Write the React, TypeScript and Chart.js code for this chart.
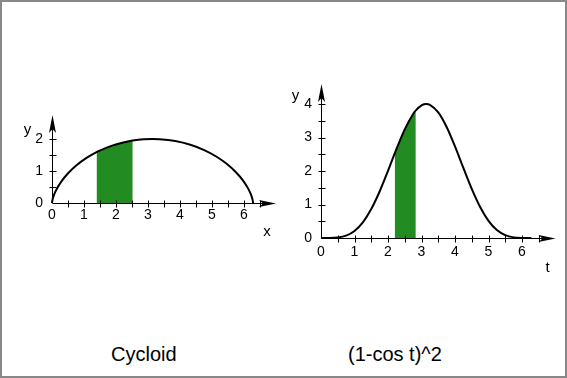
import React, { useEffect, useRef } from 'react';
import { Chart, registerables } from 'chart.js';

Chart.register(...registerables);

const FONT = 'Arial, "Liberation Sans", Helvetica, sans-serif';
const GREEN = '#228B22';

// ---- Left chart: Cycloid ----
const cycloidX = [0, 0.003, 0.021, 0.068, 0.159, 0.301, 0.503, 0.766, 1.091, 1.392, 1.472, 1.902, 2.368, 2.523, 2.859, 3.142, 3.358, 3.851, 4.322, 4.757, 5.145, 5.478, 5.749, 5.959, 6.109, 6.206, 6.258, 6.279, 6.283];
const cycloidY = [0, 0.031, 0.122, 0.268, 0.46, 0.685, 0.929, 1.178, 1.416, 1.589, 1.628, 1.801, 1.924, 1.952, 1.99, 2.0, 1.994, 1.937, 1.821, 1.654, 1.446, 1.211, 0.962, 0.716, 0.488, 0.291, 0.139, 0.04, 0];
const cycloidShadeX = [1.392, 1.472, 1.902, 2.368, 2.523];
const cycloidShadeY = [1.589, 1.628, 1.801, 1.924, 1.952];
const cycloidXTickMarks = [0, 0.5, 1, 1.5, 2, 2.5, 3, 3.5, 4, 4.5, 5, 5.5, 6, 6.5];
const cycloidYTickMarks = [0, 0.5, 1, 1.5, 2];

// ---- Right chart: (1-cos t)^2 ----
const bellT = [0, 0.25, 0.5, 0.75, 1, 1.25, 1.5, 1.75, 2, 2.2, 2.25, 2.5, 2.75, 2.83, 3, 3.14, 3.25, 3.5, 3.75, 4, 4.25, 4.5, 4.75, 5, 5.25, 5.5, 5.75, 6, 6.28];
const bellY = [0, 0.001, 0.015, 0.072, 0.211, 0.469, 0.864, 1.388, 2.005, 2.523, 2.651, 3.244, 3.703, 3.809, 3.96, 4.0, 3.976, 3.75, 3.315, 2.734, 2.091, 1.466, 0.926, 0.513, 0.238, 0.085, 0.019, 0.002, 0];
const bellShadeT = [2.2, 2.25, 2.5, 2.75, 2.83];
const bellShadeY = [2.523, 2.651, 3.244, 3.703, 3.809];
const bellXTickMarks = [0, 0.5, 1, 1.5, 2, 2.5, 3, 3.5, 4, 4.5, 5, 5.5, 6, 6.5];
const bellYTickMarks = [0, 0.5, 1, 1.5, 2, 2.5, 3, 3.5, 4];

const titles = ['Cycloid', '(1-cos t)^2'];

const toPts = (xs: number[], ys: number[]) => xs.map((x, i) => ({ x, y: ys[i] }));

const axesPlugin = {
  id: 'axesArrows',
  afterDatasetsDraw(chart: any, _args: any, opts: any) {
    const { ctx } = chart;
    const xs = chart.scales.x;
    const ys = chart.scales.y;
    const ox = Math.round(xs.getPixelForValue(0)) + 0.5;
    const oy = Math.round(ys.getPixelForValue(0)) + 0.5;
    const xEnd = xs.right;
    const yEnd = ys.top;
    ctx.save();
    ctx.strokeStyle = '#000';
    ctx.lineWidth = 1;
    ctx.beginPath();
    ctx.moveTo(ox, oy);
    ctx.lineTo(xEnd - 6, oy);
    ctx.moveTo(ox, oy);
    ctx.lineTo(ox, yEnd + 6);
    for (const v of opts.xTicks) {
      if (v === 0) continue;
      const px = Math.round(xs.getPixelForValue(v)) + 0.5;
      ctx.moveTo(px, oy - 3);
      ctx.lineTo(px, oy + 4);
    }
    for (const v of opts.yTicks) {
      if (v === 0) continue;
      const py = Math.round(ys.getPixelForValue(v)) + 0.5;
      ctx.moveTo(ox - 3, py);
      ctx.lineTo(ox + 4, py);
    }
    ctx.stroke();
    ctx.fillStyle = '#000';
    ctx.beginPath();
    ctx.moveTo(xEnd, oy);
    ctx.lineTo(xEnd - 17, oy - 3.5);
    ctx.lineTo(xEnd - 13, oy);
    ctx.lineTo(xEnd - 17, oy + 3.5);
    ctx.closePath();
    ctx.fill();
    ctx.beginPath();
    ctx.moveTo(ox, yEnd);
    ctx.lineTo(ox - 3.5, yEnd + 18);
    ctx.lineTo(ox, yEnd + 14);
    ctx.lineTo(ox + 3.5, yEnd + 18);
    ctx.closePath();
    ctx.fill();
    ctx.font = `15px ${FONT}`;
    ctx.textAlign = 'center';
    ctx.textBaseline = 'middle';
    ctx.fillText(opts.xName, xEnd + opts.xNameDx, oy + opts.xNameDy);
    ctx.fillText(opts.yName, ox + opts.yNameDx, yEnd + opts.yNameDy);
    ctx.restore();
  },
};

function buildConfig(p: any): any {
  return {
    type: 'scatter',
    data: {
      datasets: [
        {
          data: p.curve,
          showLine: true,
          borderColor: '#000',
          borderWidth: 2,
          pointRadius: 0,
          pointHoverRadius: 0,
          fill: false,
          cubicInterpolationMode: 'monotone',
          clip: false,
        },
        {
          data: p.shade,
          showLine: true,
          borderColor: 'rgba(0,0,0,0)',
          borderWidth: 0,
          backgroundColor: GREEN,
          pointRadius: 0,
          pointHoverRadius: 0,
          fill: 'origin',
          cubicInterpolationMode: 'monotone',
          clip: false,
        },
      ],
    },
    options: {
      responsive: false,
      animation: false,
      events: [],
      layout: { padding: { left: 0, top: p.top, right: p.right, bottom: 0 } },
      plugins: {
        legend: { display: false },
        tooltip: { enabled: false },
        axesArrows: p.axes,
      },
      scales: {
        x: {
          type: 'linear',
          min: 0,
          max: p.xMax,
          grid: { display: false, drawTicks: false },
          border: { display: false },
          ticks: {
            stepSize: 1,
            includeBounds: false,
            autoSkip: false,
            maxRotation: 0,
            padding: p.xPad,
            color: '#000',
            font: { family: FONT, size: 14 },
            callback: (v: number) => (v <= 6 ? String(v) : ''),
          },
          afterFit: (s: any) => {
            s.height = p.xH;
          },
        },
        y: {
          type: 'linear',
          min: 0,
          max: p.yMax,
          grid: { display: false, drawTicks: false },
          border: { display: false },
          ticks: {
            stepSize: 1,
            includeBounds: false,
            autoSkip: false,
            padding: p.yPad,
            color: '#000',
            font: { family: FONT, size: 14 },
            callback: (v: number) => String(v),
          },
          afterFit: (s: any) => {
            s.width = p.yW;
          },
        },
      },
    },
    plugins: [axesPlugin],
  };
}

export default function App() {
  const leftRef = useRef<HTMLCanvasElement>(null);
  const rightRef = useRef<HTMLCanvasElement>(null);

  useEffect(() => {
    const c1 = new Chart(
      leftRef.current as HTMLCanvasElement,
      buildConfig({
        curve: toPts(cycloidX, cycloidY),
        shade: toPts(cycloidShadeX, cycloidShadeY),
        xMax: 7,
        yMax: 2.75,
        top: 115,
        right: 7,
        xH: 97,
        yW: 52,
        yPad: 9,
        xPad: 4,
        axes: {
          xTicks: cycloidXTickMarks,
          yTicks: cycloidYTickMarks,
          xName: 'x',
          xNameDx: -9,
          xNameDy: 28,
          yName: 'y',
          yNameDx: -25,
          yNameDy: 15,
        },
      })
    );
    const c2 = new Chart(
      rightRef.current as HTMLCanvasElement,
      buildConfig({
        curve: toPts(bellT, bellY),
        shade: toPts(bellShadeT, bellShadeY),
        xMax: 7,
        yMax: 4.6,
        top: 83.9,
        right: 11.5,
        xH: 62,
        yW: 38,
        yPad: 9,
        xPad: 6,
        axes: {
          xTicks: bellXTickMarks,
          yTicks: bellYTickMarks,
          xName: 't',
          xNameDx: -8,
          xNameDy: 29,
          yName: 'y',
          yNameDx: -26,
          yNameDy: 12,
        },
      })
    );
    return () => {
      c1.destroy();
      c2.destroy();
    };
  }, []);

  const titleStyle: React.CSSProperties = {
    position: 'absolute',
    top: 344,
    fontFamily: FONT,
    fontSize: 20,
    lineHeight: '20px',
    color: '#000',
    whiteSpace: 'pre',
  };

  return (
    <div style={{ position: 'fixed', left: 0, top: 0, width: 567, height: 378, background: '#fff', overflow: 'hidden' }}>
      <canvas ref={leftRef} width={283} height={300} style={{ position: 'absolute', left: 0, top: 0 }} />
      <canvas ref={rightRef} width={284} height={300} style={{ position: 'absolute', left: 283, top: 0 }} />
      <div style={{ ...titleStyle, left: 111 }}>{titles[0]}</div>
      <div style={{ ...titleStyle, left: 348 }}>{titles[1]}</div>
      <div
        style={{
          position: 'absolute',
          left: 0,
          top: 0,
          width: 567,
          height: 378,
          boxSizing: 'border-box',
          border: '2px solid #888',
          pointerEvents: 'none',
        }}
      />
    </div>
  );
}
